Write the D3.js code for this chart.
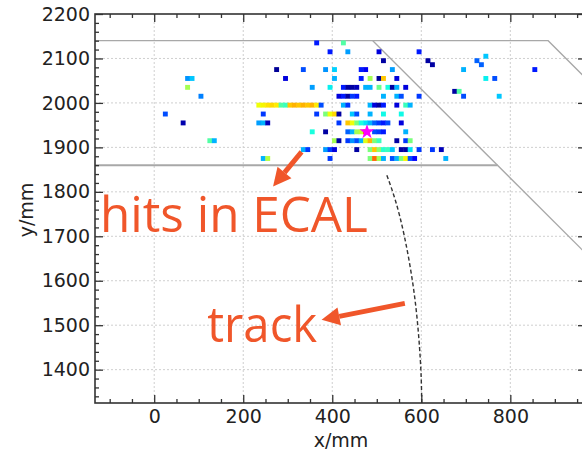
<!DOCTYPE html>
<html>
<head>
<meta charset="utf-8">
<script src="https://cdn.jsdelivr.net/npm/d3@7"></script>
<style>
  body { margin: 0; background: #fff; }
  text { font-family: "DejaVu Sans", sans-serif; }
</style>
</head>
<body>
<svg id="vis" width="582" height="455"></svg>
<script>
////////// data //////////
var xDomain = [-133, 970];
var yDomain = [1325, 2200];
var xMajor = [0, 200, 400, 600, 800];
var yMajor = [1400, 1500, 1600, 1700, 1800, 1900, 2000, 2100, 2200];

// ECAL hits: [x mm, y mm, energy fraction for the colormap]
var hits = [
  [365,2135,.15],[425,2135,.45],
  [395,2115,.15],[435,2115,.28],[505,2115,.08],[595,2115,.15],
  [745,2105,.32],
  [515,2095,.03],[615,2095,.03],[725,2095,.22],
  [625,2086,.03],[735,2086,.22],
  [275,2075,.02],[335,2075,.2],[385,2075,.27],[405,2075,.33],[465,2075,.15],[475,2075,.1],[535,2075,.28],[695,2075,.3],[855,2075,.15],
  [75,2055,.27],[85,2055,.32],[295,2055,.08],[405,2055,.3],[465,2055,.15],[485,2055,.55],[505,2055,.02],[515,2055,.7],[545,2055,.08],[745,2055,.36],[765,2055,.2],
  [75,2035,.55],[355,2035,.28],[395,2035,.36],[425,2035,.15],[435,2035,.03],[445,2035,.03],[455,2035,.05],[475,2035,.3],[485,2035,.3],[505,2035,.48],[525,2035,.38],[535,2035,.03],[545,2035,.3],[565,2035,.08],
  [675,2026,.03],[685,2026,.45],
  [105,2015,.25],[415,2015,.08],[425,2015,.15],[435,2015,.03],[445,2015,.18],[455,2015,.15],[515,2015,.3],[545,2015,.3],[555,2015,.2],[595,2015,.18],[695,2015,.2],[775,2015,.32],
  [235,1995,.64],[245,1995,.65],[255,1995,.67],[265,1995,.68],[275,1995,.66],[285,1995,.45],[295,1995,.42],[305,1995,.7],[315,1995,.72],[325,1995,.7],[335,1995,.72],[345,1995,.7],[355,1995,.72],[365,1995,.66],[375,1995,.2],[425,1995,.3],[435,1995,.18],[485,1995,.3],[495,1995,.08],[505,1995,.03],[515,1995,.15],[545,1995,.08],[565,1995,.42],[575,1995,.3],
  [25,1975,.2],[245,1975,.18],[365,1975,.18],[385,1975,.5],[395,1975,.64],[405,1975,.68],[415,1975,.03],[445,1975,.32],[455,1975,.2],[485,1975,.3],[515,1975,.37],[555,1975,.37],
  [65,1955,.04],[235,1955,.28],[245,1955,.3],[255,1955,.05],[415,1955,.18],[435,1955,.7],[445,1955,.64],[455,1955,.5],[465,1955,.38],[475,1955,.35],[485,1955,.3],[495,1955,.22],[505,1955,.18],[515,1955,.15],[525,1955,.2],[555,1955,.08],
  [355,1935,.38],[385,1935,.03],[435,1935,.22],[445,1935,.3],[455,1935,.55],[465,1935,.58],[475,1935,.85],[495,1935,.2],[505,1935,.18],[515,1935,.15],[565,1935,.3],
  [125,1915,.45],[135,1915,.3],[405,1915,.55],[415,1915,.03],[435,1915,.18],[445,1915,.27],[455,1915,.2],[465,1915,.3],[475,1915,.62],[485,1915,.72],[495,1915,.5],[505,1915,.42],[545,1915,.03],[565,1915,.18],[575,1915,.5],
  [335,1895,.3],[345,1895,.18],[385,1895,.28],[395,1895,.18],[405,1895,.08],[455,1895,.03],[485,1895,.5],[495,1895,.7],[505,1895,.52],[515,1895,.4],[525,1895,.42],[535,1895,.32],[555,1895,.03],[565,1895,.03],[575,1895,.35],[595,1895,.18],[625,1895,.18],[645,1895,.05],
  [245,1875,.3],[255,1875,.57],[395,1875,.18],[485,1875,.5],[495,1875,.8],[505,1875,.55],[515,1875,.3],[535,1875,.2],[545,1875,.3],[555,1875,.5],[565,1875,.65],[575,1875,.2],[585,1875,.12],[655,1875,.3]
];
var cluster = [478, 1935];

// ECAL module outline
var ecalTop = [[-133, 2140], [885, 2140], [1000, 2025]];
var ecalInner = [[491, 2140], [1000, 1631]];
var ecalBottom = [[-133, 1860], [771, 1860]];

// reconstructed track (dashed)
var track = [[601,1325],[599,1400],[592,1500],[580,1600],[562,1700],[542,1780],[521,1842]];

// annotations: text anchor and arrow tail -> tip
var notes = [
  { text: "hits in ECAL", at: [-122, 1710], len: 268, tail: [331, 1890], tip: [267, 1812] },
  { text: "track", at: [119, 1463], len: 110, tail: [563, 1549], tip: [376, 1512] }
];

////////// chart //////////
var vis = d3.select("#vis");
vis.append("rect").attr("width", 582).attr("height", 455).attr("fill", "#fff");

var x = d3.scaleLinear().domain(xDomain).range([95, 586]);
var y = d3.scaleLinear().domain(yDomain).range([403, 14]);

// matplotlib jet
var jr = d3.scaleLinear().domain([0, .35, .66, .89, 1]).range([0, 0, 1, 1, .5]).clamp(true);
var jg = d3.scaleLinear().domain([0, .125, .375, .64, .91, 1]).range([0, 0, 1, 1, 0, 0]).clamp(true);
var jb = d3.scaleLinear().domain([0, .11, .34, .65, 1]).range([.5, 1, 1, 0, 0]).clamp(true);
var jet = function(v) { return d3.rgb(jr(v) * 255, jg(v) * 255, jb(v) * 255).formatHex(); };

vis.append("defs").append("clipPath").attr("id", "plot")
  .append("rect").attr("x", 95).attr("y", 14).attr("width", 491).attr("height", 389);

// grid
var grid = vis.append("g").attr("stroke", "#cfcfcf").attr("stroke-width", 1).attr("stroke-dasharray", "2,2");
grid.selectAll(".gx").data(xMajor).enter().append("line")
  .attr("x1", x).attr("x2", x).attr("y1", 14).attr("y2", 403);
grid.selectAll(".gy").data(yMajor.slice(0, -1)).enter().append("line")
  .attr("y1", y).attr("y2", y).attr("x1", 95).attr("x2", 586);

var plot = vis.append("g").attr("clip-path", "url(#plot)");

// ECAL outline
var line = d3.line().x(function(d) { return x(d[0]); }).y(function(d) { return y(d[1]); });
plot.append("path").attr("d", line(ecalTop)).attr("fill", "none").attr("stroke", "#a8a8a8").attr("stroke-width", 1.3);
plot.append("path").attr("d", line(ecalInner)).attr("fill", "none").attr("stroke", "#a8a8a8").attr("stroke-width", 1.3);
plot.append("path").attr("d", line(ecalBottom)).attr("fill", "none").attr("stroke", "#a8a8a8").attr("stroke-width", 2);

// hits
var cell = x(11) - x(0);
plot.selectAll(".hit").data(hits).enter().append("rect")
  .attr("x", function(d) { return x(d[0]) - cell / 2; })
  .attr("y", function(d) { return y(d[1]) - cell / 2; })
  .attr("width", cell).attr("height", cell)
  .attr("fill", function(d) { return jet(d[2]); });

plot.append("path")
  .attr("d", d3.symbol().type(d3.symbolStar).size(70))
  .attr("transform", "translate(" + x(cluster[0]) + "," + y(cluster[1]) + ")")
  .attr("fill", "#ff00ff");

// track
plot.append("path")
  .attr("d", line.curve(d3.curveNatural)(track))
  .attr("fill", "none").attr("stroke", "#333").attr("stroke-width", 1.4)
  .attr("stroke-dasharray", "4,2.5");

// axes
function styleAxis(g) {
  g.select(".domain").remove();
  g.selectAll(".tick line").attr("stroke", "#333").attr("stroke-width", 1.3);
  g.selectAll("text").attr("fill", "#222").style("font-size", "19px").style("font-family", "DejaVu Sans");
}
var xMinor = d3.range(-100, 970, 50).filter(function(v) { return v % 200 !== 0; });
var yMinor = d3.range(1340, 2200, 20).filter(function(v) { return v % 100 !== 0; });

vis.append("g").attr("transform", "translate(0,403)")
  .call(d3.axisBottom(x).tickValues(xMajor).tickSize(-8).tickPadding(7).tickFormat(d3.format("d")))
  .call(styleAxis);
vis.append("g").attr("transform", "translate(0,403)")
  .call(d3.axisBottom(x).tickValues(xMinor).tickSize(-4).tickFormat("")).call(styleAxis);
vis.append("g").attr("transform", "translate(0,14)")
  .call(d3.axisTop(x).tickValues(xMajor).tickSize(-8).tickFormat("")).call(styleAxis);
vis.append("g").attr("transform", "translate(0,14)")
  .call(d3.axisTop(x).tickValues(xMinor).tickSize(-4).tickFormat("")).call(styleAxis);

vis.append("g").attr("transform", "translate(95,0)")
  .call(d3.axisLeft(y).tickValues(yMajor).tickSize(-8).tickPadding(5).tickFormat(d3.format("d")))
  .call(styleAxis);
vis.append("g").attr("transform", "translate(95,0)")
  .call(d3.axisLeft(y).tickValues(yMinor).tickSize(-4).tickFormat("")).call(styleAxis);
vis.append("g").attr("transform", "translate(586,0)")
  .call(d3.axisRight(y).tickValues(yMajor).tickSize(-8).tickFormat("")).call(styleAxis);
vis.append("g").attr("transform", "translate(586,0)")
  .call(d3.axisRight(y).tickValues(yMinor).tickSize(-4).tickFormat("")).call(styleAxis);

vis.append("rect").attr("x", 95).attr("y", 14).attr("width", 491).attr("height", 389)
  .attr("fill", "none").attr("stroke", "#333").attr("stroke-width", 1.6);

vis.append("text").attr("x", 341).attr("y", 447).attr("text-anchor", "middle")
  .attr("fill", "#222").style("font-size", "19px").text("x/mm");
vis.append("text").attr("transform", "translate(33,210) rotate(-90)").attr("text-anchor", "middle")
  .attr("fill", "#222").style("font-size", "19px").text("y/mm");

// annotations
var orange = "#f0562a";
notes.forEach(function(n) {
  vis.append("text").attr("x", x(n.at[0])).attr("y", y(n.at[1]))
    .attr("fill", orange).style("font-family", "Open Sans").style("font-size", "50px")
    .attr("textLength", n.len).attr("lengthAdjust", "spacingAndGlyphs")
    .text(n.text);
  var x0 = x(n.tail[0]), y0 = y(n.tail[1]), x1 = x(n.tip[0]), y1 = y(n.tip[1]);
  var a = Math.atan2(y1 - y0, x1 - x0), hl = 18, hw = 9;
  var bx = x1 - hl * Math.cos(a), by = y1 - hl * Math.sin(a);
  vis.append("line").attr("x1", x0).attr("y1", y0).attr("x2", bx).attr("y2", by)
    .attr("stroke", orange).attr("stroke-width", 5);
  vis.append("path").attr("fill", orange)
    .attr("d", "M" + x1 + "," + y1 +
      "L" + (bx + hw * Math.sin(a)) + "," + (by - hw * Math.cos(a)) +
      "L" + (bx - hw * Math.sin(a)) + "," + (by + hw * Math.cos(a)) + "Z");
});
</script>
</body>
</html>
